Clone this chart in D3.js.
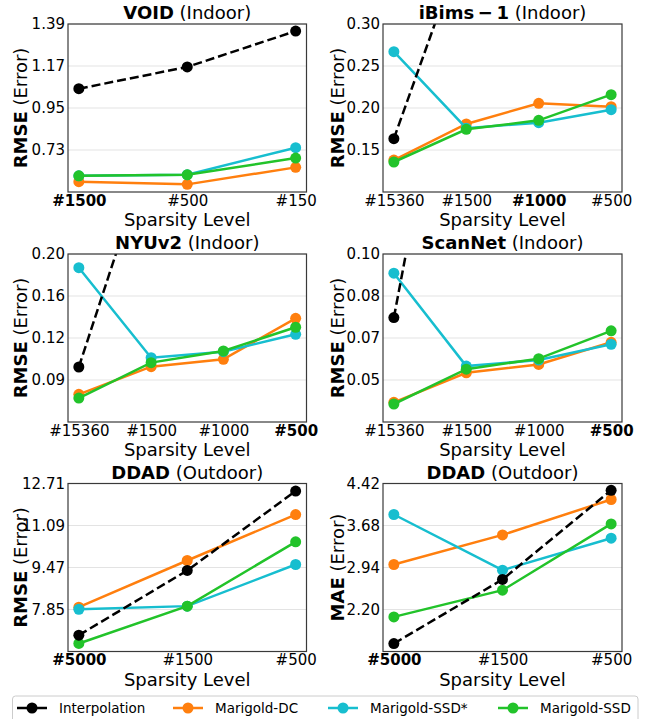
<!DOCTYPE html>
<html><head><meta charset="utf-8">
<script src="https://cdn.jsdelivr.net/npm/d3@7"></script>
<style>
body{margin:0;background:#fff}
svg{display:block;font-family:"DejaVu Sans",sans-serif}
</style>
</head><body><svg id="c" width="645" height="719"></svg>
<script>
// ---------- data ----------
const seriesNames = ["Interpolation", "Marigold-DC", "Marigold-SSD*", "Marigold-SSD"];
const seriesColors = ["#000000", "#ff7f0e", "#17becf", "#22c32a"];

// VOID (Indoor) - RMSE
const voidCategories = ["#1500", "#500", "#150"];
const voidBold = "#1500";
const voidInterpolation = [1.051, 1.165, 1.353];
const voidDC = [0.564, 0.550, 0.639];
const voidSSDStar = [0.595, 0.601, 0.742];
const voidSSD = [0.595, 0.600, 0.688];
const voidYRange = [0.51, 1.39];
const voidYTicks = [0.73, 0.95, 1.17, 1.39];
const voidYTickLabels = ["0.73", "0.95", "1.17", "1.39"];

// iBims-1 (Indoor) - RMSE
const ibimsCategories = ["#15360", "#1500", "#1000", "#500"];
const ibimsBold = "#1000";
const ibimsInterpolation = [0.1635, 0.405, 0.52, 0.63];
const ibimsDC = [0.138, 0.181, 0.2056, 0.2016];
const ibimsSSDStar = [0.267, 0.176, 0.1825, 0.198];
const ibimsSSD = [0.1357, 0.1746, 0.1853, 0.2159];
const ibimsYRange = [0.10, 0.30];
const ibimsYTicks = [0.15, 0.20, 0.25, 0.30];
const ibimsYTickLabels = ["0.15", "0.20", "0.25", "0.30"];

// NYUv2 (Indoor) - RMSE
const nyuCategories = ["#15360", "#1500", "#1000", "#500"];
const nyuBold = "#500";
const nyuInterpolation = [0.0991, 0.296, 0.40, 0.50];
const nyuDC = [0.0747, 0.0994, 0.106, 0.1426];
const nyuSSDStar = [0.1878, 0.1074, 0.1128, 0.1283];
const nyuSSD = [0.0714, 0.103, 0.1134, 0.1346];
const nyuYRange = [0.05, 0.20];
const nyuYTicks = [0.0875, 0.125, 0.1625, 0.20];
const nyuYTickLabels = ["0.09", "0.12", "0.16", "0.20"];

// ScanNet (Indoor) - RMSE
const scanCategories = ["#15360", "#1500", "#1000", "#500"];
const scanBold = "#500";
const scanInterpolation = [0.0735, 0.233, 0.30, 0.36];
const scanDC = [0.0382, 0.0505, 0.054, 0.0632];
const scanSSDStar = [0.092, 0.0533, 0.0558, 0.0624];
const scanSSD = [0.0375, 0.052, 0.0564, 0.068];
const scanYRange = [0.03, 0.10];
const scanYTicks = [0.0475, 0.065, 0.0825, 0.10];
const scanYTickLabels = ["0.05", "0.07", "0.08", "0.10"];

// DDAD (Outdoor) - RMSE
const ddadCategories = ["#5000", "#1500", "#500"];
const ddadBold = "#5000";
const ddadRmseInterpolation = [6.86, 9.355, 12.42];
const ddadRmseDC = [7.94, 9.74, 11.51];
const ddadRmseSSDStar = [7.86, 7.98, 9.586];
const ddadRmseSSD = [6.54, 7.98, 10.46];
const ddadRmseYRange = [6.23, 12.71];
const ddadRmseYTicks = [7.85, 9.47, 11.09, 12.71];
const ddadRmseYTickLabels = ["7.85", "9.47", "11.09", "12.71"];

// DDAD (Outdoor) - MAE
const ddadMaeInterpolation = [1.60, 2.729, 4.30];
const ddadMaeDC = [2.993, 3.514, 4.138];
const ddadMaeSSDStar = [3.874, 2.893, 3.456];
const ddadMaeSSD = [2.07, 2.54, 3.708];
const ddadMaeYRange = [1.46, 4.42];
const ddadMaeYTicks = [2.20, 2.94, 3.68, 4.42];
const ddadMaeYTickLabels = ["2.20", "2.94", "3.68", "4.42"];

// ---------- panels ----------
const panels = [
  {title: "VOID", sub: " (Indoor)", metric: "RMSE", cats: voidCategories, bold: voidBold,
   series: [voidInterpolation, voidDC, voidSSDStar, voidSSD], yr: voidYRange, yt: voidYTicks, yl: voidYTickLabels, col: 0, row: 0},
  {title: "iBims\u2009\u2212\u20091", sub: " (Indoor)", metric: "RMSE", cats: ibimsCategories, bold: ibimsBold,
   series: [ibimsInterpolation, ibimsDC, ibimsSSDStar, ibimsSSD], yr: ibimsYRange, yt: ibimsYTicks, yl: ibimsYTickLabels, col: 1, row: 0},
  {title: "NYUv2", sub: " (Indoor)", metric: "RMSE", cats: nyuCategories, bold: nyuBold,
   series: [nyuInterpolation, nyuDC, nyuSSDStar, nyuSSD], yr: nyuYRange, yt: nyuYTicks, yl: nyuYTickLabels, col: 0, row: 1},
  {title: "ScanNet", sub: " (Indoor)", metric: "RMSE", cats: scanCategories, bold: scanBold,
   series: [scanInterpolation, scanDC, scanSSDStar, scanSSD], yr: scanYRange, yt: scanYTicks, yl: scanYTickLabels, col: 1, row: 1},
  {title: "DDAD", sub: " (Outdoor)", metric: "RMSE", cats: ddadCategories, bold: ddadBold,
   series: [ddadRmseInterpolation, ddadRmseDC, ddadRmseSSDStar, ddadRmseSSD], yr: ddadRmseYRange, yt: ddadRmseYTicks, yl: ddadRmseYTickLabels, col: 0, row: 2},
  {title: "DDAD", sub: " (Outdoor)", metric: "MAE", cats: ddadCategories, bold: ddadBold,
   series: [ddadMaeInterpolation, ddadMaeDC, ddadMaeSSDStar, ddadMaeSSD], yr: ddadMaeYRange, yt: ddadMaeYTicks, yl: ddadMaeYTickLabels, col: 1, row: 2}
];

// ---------- layout ----------
const colX = [[68, 306.5], [383, 622]];
const rowY = [[24, 192], [254, 422], [483.5, 651.5]];
const yLabelX = [20, 336.5];
const drawOrder = [1, 2, 3, 0];

const svg = d3.select("#c");
svg.append("rect").attr("width", 645).attr("height", 719).attr("fill", "#fff");

panels.forEach((p, pi) => {
  const [x0, x1] = colX[p.col];
  const [y0, y1] = rowY[p.row];
  const n = p.cats.length;
  const x = d3.scaleLinear().domain([-0.05 * (n - 1), 1.05 * (n - 1)]).range([x0, x1]);
  const y = d3.scaleLinear().domain(p.yr).range([y1, y0]);
  const g = svg.append("g");

  const clipId = "clip" + pi;
  g.append("clipPath").attr("id", clipId).append("rect")
    .attr("x", x0).attr("y", y0).attr("width", x1 - x0).attr("height", y1 - y0);

  // gridlines
  g.append("g").selectAll("line").data(p.yt).join("line")
    .attr("x1", x0).attr("x2", x1).attr("y1", d => y(d)).attr("y2", d => y(d))
    .attr("stroke", "#e3e3e3").attr("stroke-width", 1);

  // series
  const plot = g.append("g").attr("clip-path", `url(#${clipId})`);
  const line = d3.line().x((d, i) => x(i)).y(d => y(d));
  drawOrder.forEach(si => {
    const vals = p.series[si];
    plot.append("path").datum(vals).attr("d", line)
      .attr("fill", "none").attr("stroke", seriesColors[si]).attr("stroke-width", 2.5)
      .attr("stroke-dasharray", si === 0 ? "9,4" : null);
    plot.append("g").selectAll("circle").data(vals).join("circle")
      .attr("cx", (d, i) => x(i)).attr("cy", d => y(d)).attr("r", 5.5)
      .attr("fill", seriesColors[si]);
  });

  // frame
  g.append("rect").attr("x", x0).attr("y", y0).attr("width", x1 - x0).attr("height", y1 - y0)
    .attr("fill", "none").attr("stroke", "#3a3a3a").attr("stroke-width", 1.2);

  // y axis
  const ya = g.append("g").attr("transform", `translate(${x0},0)`)
    .call(d3.axisLeft(y).tickValues(p.yt).tickFormat((d, i) => p.yl[i]).tickSize(0).tickPadding(3));
  ya.select(".domain").remove();
  ya.selectAll("text").attr("font-size", 15).attr("fill", "#000")
    .attr("font-family", "DejaVu Sans");

  // x axis
  const xa = g.append("g").attr("transform", `translate(0,${y1})`)
    .call(d3.axisBottom(x).tickValues(d3.range(n)).tickFormat(i => p.cats[i]).tickSize(0).tickPadding(3));
  xa.select(".domain").remove();
  xa.selectAll("text").attr("font-size", 15).attr("fill", "#000")
    .attr("font-family", "DejaVu Sans")
    .attr("font-weight", (d) => p.cats[d] === p.bold ? "bold" : "normal");

  // x label
  g.append("text").attr("x", (x0 + x1) / 2).attr("y", y1 + 34)
    .attr("text-anchor", "middle").attr("font-size", 18).text("Sparsity Level");

  // y label
  const yl = g.append("text")
    .attr("transform", `translate(${yLabelX[p.col]},${(y0 + y1) / 2}) rotate(-90)`)
    .attr("text-anchor", "middle").attr("dominant-baseline", "central").attr("font-size", 18);
  yl.append("tspan").attr("font-weight", "bold").text(p.metric);
  yl.append("tspan").text(" (Error)");

  // title
  const t = g.append("text").attr("x", (x0 + x1) / 2).attr("y", y0 - 5)
    .attr("text-anchor", "middle").attr("font-size", 18);
  t.append("tspan").attr("font-weight", "bold").text(p.title);
  t.append("tspan").text(p.sub);
});

// ---------- legend ----------
const legendLineX = [17, 173, 328, 498];
const leg = svg.append("g");
leg.append("rect").attr("x", 12.5).attr("y", 696).attr("width", 625.5).attr("height", 30)
  .attr("rx", 3).attr("fill", "#fff").attr("stroke", "#cccccc").attr("stroke-width", 1);
seriesNames.forEach((name, i) => {
  const lx = legendLineX[i];
  const cy = 708;
  leg.append("line").attr("x1", lx).attr("x2", lx + 30).attr("y1", cy).attr("y2", cy)
    .attr("stroke", seriesColors[i]).attr("stroke-width", 2.5);
  leg.append("circle").attr("cx", lx + 15).attr("cy", cy).attr("r", 5.5).attr("fill", seriesColors[i]);
  leg.append("text").attr("x", lx + 42).attr("y", cy).attr("dominant-baseline", "central")
    .attr("font-size", 13.5).text(name);
});
</script>
</body></html>
